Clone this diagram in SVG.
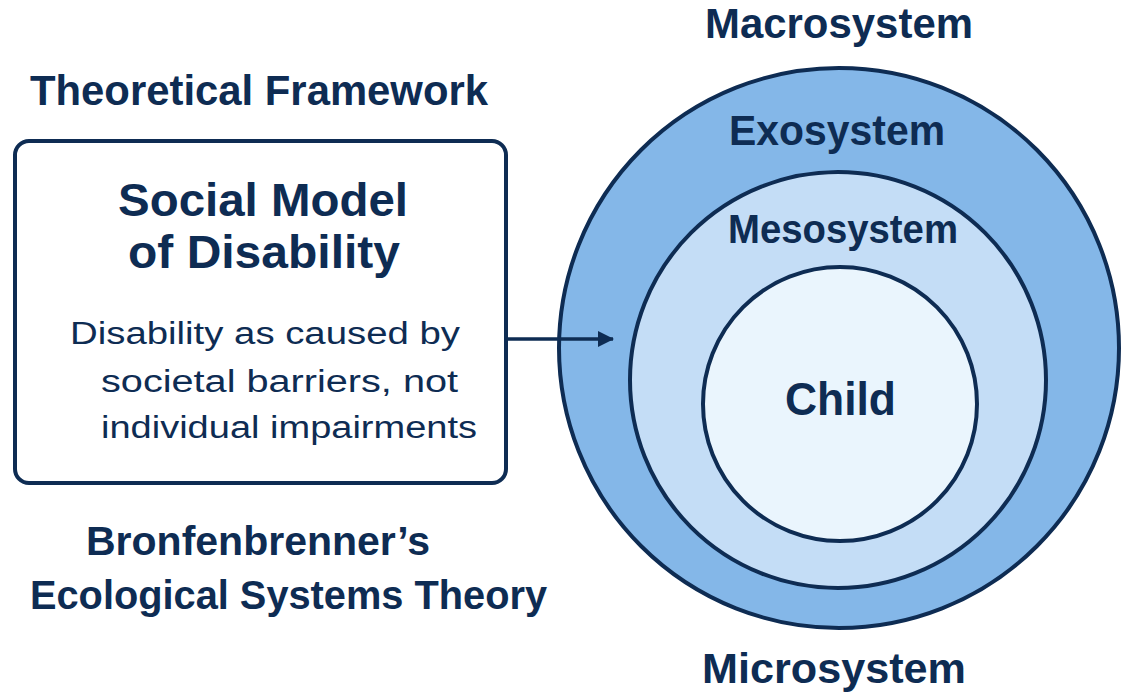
<svg xmlns="http://www.w3.org/2000/svg" width="1138" height="700" viewBox="0 0 1138 700">
<defs>
<style>
.t{font-family:"Liberation Sans",Arial,sans-serif;fill:#0e2c53;}
.b{font-weight:700;}
.r{font-weight:400;}
.ring{stroke:#0e2c53;stroke-width:4;}
</style>
<marker id="ah" markerWidth="16" markerHeight="16" refX="15" refY="8" orient="auto" markerUnits="userSpaceOnUse">
<path d="M0,0 L16,8 L0,16 Z" fill="#0e2c53"/>
</marker>
</defs>
<rect width="1138" height="700" fill="#ffffff"/>
<g id="labels-left">
<text class="t b" x="30" y="105" font-size="42" textLength="458" lengthAdjust="spacingAndGlyphs">Theoretical Framework</text>
<text class="t b" x="86" y="555" font-size="40" textLength="344" lengthAdjust="spacingAndGlyphs">Bronfenbrenner’s</text>
<text class="t b" x="30" y="609" font-size="40" textLength="517" lengthAdjust="spacingAndGlyphs">Ecological Systems Theory</text>
</g>
<g id="node-social-model">
<rect x="15" y="141" width="491" height="342" rx="14" fill="#ffffff" stroke="#0e2c53" stroke-width="4"/>
<text class="t b" x="118" y="216" font-size="46" textLength="290" lengthAdjust="spacingAndGlyphs">Social Model</text>
<text class="t b" x="128" y="268" font-size="46" textLength="272" lengthAdjust="spacingAndGlyphs">of Disability</text>
<text class="t r" x="70" y="344" font-size="31" textLength="390" lengthAdjust="spacingAndGlyphs">Disability as caused by</text>
<text class="t r" x="101" y="392" font-size="31" textLength="357" lengthAdjust="spacingAndGlyphs">societal barriers, not</text>
<text class="t r" x="101" y="438" font-size="31" textLength="376" lengthAdjust="spacingAndGlyphs">individual impairments</text>
</g>
<g id="node-ecological">
<circle id="macro-ring" class="ring" cx="839" cy="348" r="280" fill="#84b7e8"/>
<circle id="meso-ring" class="ring" cx="838" cy="380" r="208" fill="#c4ddf6"/>
<circle id="child-ring" class="ring" cx="840" cy="404" r="137" fill="#eaf5fd"/>
<text class="t b" x="705" y="38" font-size="43" textLength="268" lengthAdjust="spacingAndGlyphs">Macrosystem</text>
<text class="t b" x="729" y="145" font-size="42" textLength="216" lengthAdjust="spacingAndGlyphs">Exosystem</text>
<text class="t b" x="728" y="243" font-size="40" textLength="230" lengthAdjust="spacingAndGlyphs">Mesosystem</text>
<text class="t b" x="785" y="415" font-size="46" textLength="111" lengthAdjust="spacingAndGlyphs">Child</text>
<text class="t b" x="702" y="683" font-size="43" textLength="264" lengthAdjust="spacingAndGlyphs">Microsystem</text>
</g>
<g id="connectors">
<line x1="506" y1="339" x2="613" y2="339" stroke="#0e2c53" stroke-width="3.5" marker-end="url(#ah)"/>
</g>
</svg>
